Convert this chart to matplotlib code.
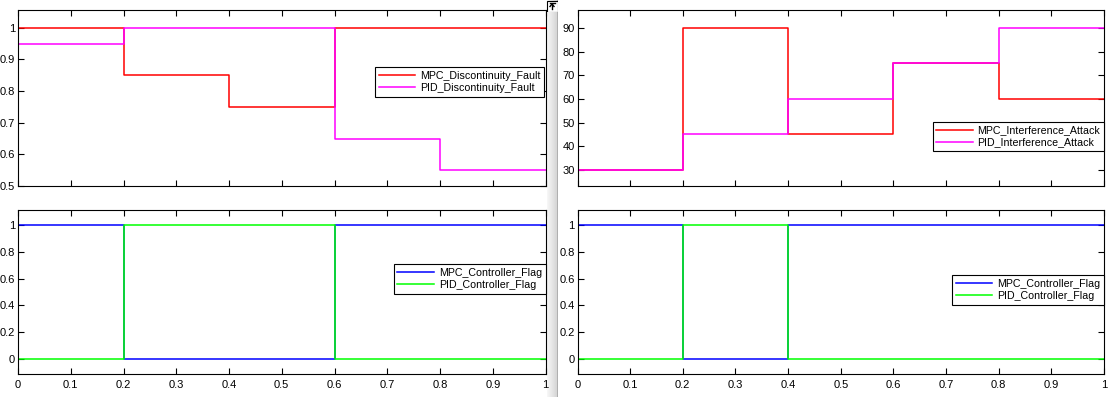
import numpy as np
import matplotlib
matplotlib.use("Agg")
import matplotlib.pyplot as plt
from matplotlib.patches import Rectangle

plt.rcParams['font.family'] = ['Liberation Sans', 'DejaVu Sans']
plt.rcParams['font.size'] = 8

# ---- data ----
t_edges = [0.0, 0.2, 0.4, 0.6, 0.8, 1.0]
mpc_fault = [1.0, 0.85, 0.75, 1.0, 1.0]
pid_fault = [0.95, 1.0, 1.0, 0.65, 0.55]
mpc_flag_left = [1, 0, 0, 1, 1]
pid_flag_left = [0, 1, 1, 0, 0]
mpc_attack = [30, 90, 45, 75, 60]
pid_attack = [30, 45, 60, 75, 90]
mpc_flag_right = [1, 0, 1, 1, 1]
pid_flag_right = [0, 1, 0, 0, 0]

x_ticks = [0, 0.1, 0.2, 0.3, 0.4, 0.5, 0.6, 0.7, 0.8, 0.9, 1]
x_ticklabels = ['0', '0.1', '0.2', '0.3', '0.4', '0.5', '0.6', '0.7', '0.8', '0.9', '1']
fault_ticks = [0.5, 0.6, 0.7, 0.8, 0.9, 1]
fault_ticklabels = ['0.5', '0.6', '0.7', '0.8', '0.9', '1']
flag_ticks = [0, 0.2, 0.4, 0.6, 0.8, 1]
flag_ticklabels = ['0', '0.2', '0.4', '0.6', '0.8', '1']
attack_ticks = [30, 40, 50, 60, 70, 80, 90]
attack_ticklabels = ['30', '40', '50', '60', '70', '80', '90']

W, H = 1119, 397
fig = plt.figure(figsize=(W / 100, H / 100), dpi=100)


def px_axes(x0, y0, x1, y1, **kw):
    return fig.add_axes([x0 / W, (H - y1) / H, (x1 - x0) / W, (y1 - y0) / H], **kw)


# separator bar with gradient (drawn first so tick labels stay on top)
sep = px_axes(547, 0, 558, H, zorder=0)
grad = np.linspace(0.97, 0.82, 50).reshape(1, -1)
sep.imshow(grad, aspect='auto', cmap='gray', vmin=0, vmax=1,
           extent=(0, 1, 0, 1))
sep.axvline(1, color='#a8a8a8', lw=1.2)
sep.set_xlim(0, 1)
sep.set_ylim(0, 1)
sep.axis('off')


def stairs(ax, vals, color, label):
    y = list(vals) + [vals[-1]]
    ax.step(t_edges, y, where='post', color=color, lw=1.1, label=label)


def style(ax, show_x):
    ax.set_xlim(0, 1)
    ax.set_xticks(x_ticks)
    if show_x:
        ax.set_xticklabels(x_ticklabels)
    else:
        ax.set_xticklabels([])
    ax.tick_params(direction='in', top=True, right=True, length=4, width=0.8,
                   labelsize=8, colors='black')
    ax.tick_params(axis='y', pad=2)
    ax.tick_params(axis='x', pad=4)
    for s in ax.spines.values():
        s.set_linewidth(0.8)
    ax.patch.set_alpha(1)


def legend(ax, x_right_px, y_top_px):
    leg = ax.legend(loc='upper right',
                    bbox_to_anchor=(x_right_px / W, 1 - y_top_px / H),
                    bbox_transform=fig.transFigure,
                    fancybox=False, framealpha=1, edgecolor='black',
                    fontsize=7.7, handlelength=3.4, handletextpad=0.45,
                    borderpad=0.35, labelspacing=0.22, borderaxespad=0)
    leg.get_frame().set_linewidth(0.8)


# left top
ax1 = px_axes(18, 10, 545.5, 186, zorder=1)
stairs(ax1, mpc_fault, '#ff0000', 'MPC_Discontinuity_Fault')
stairs(ax1, pid_fault, '#ff00ff', 'PID_Discontinuity_Fault')
ax1.set_ylim(0.5, 1.056)
ax1.set_yticks(fault_ticks)
ax1.set_yticklabels(fault_ticklabels)
style(ax1, False)
legend(ax1, 544, 67)

# left bottom
ax2 = px_axes(18, 210, 545.5, 374, zorder=1)
stairs(ax2, mpc_flag_left, '#0000ff', 'MPC_Controller_Flag')
stairs(ax2, pid_flag_left, '#00ff00', 'PID_Controller_Flag')
ax2.set_ylim(-0.11, 1.11)
ax2.set_yticks(flag_ticks)
ax2.set_yticklabels(flag_ticklabels)
style(ax2, True)
legend(ax2, 545.5, 264)

# right top
ax3 = px_axes(577.5, 10, 1104, 186, zorder=1)
stairs(ax3, mpc_attack, '#ff0000', 'MPC_Interference_Attack')
stairs(ax3, pid_attack, '#ff00ff', 'PID_Interference_Attack')
ax3.set_ylim(23.2, 97.6)
ax3.set_yticks(attack_ticks)
ax3.set_yticklabels(attack_ticklabels)
style(ax3, False)
legend(ax3, 1104, 121.5)

# right bottom
ax4 = px_axes(577.5, 210, 1104, 374, zorder=1)
stairs(ax4, mpc_flag_right, '#0000ff', 'MPC_Controller_Flag')
stairs(ax4, pid_flag_right, '#00ff00', 'PID_Controller_Flag')
ax4.set_ylim(-0.11, 1.11)
ax4.set_yticks(flag_ticks)
ax4.set_yticklabels(flag_ticklabels)
style(ax4, True)
legend(ax4, 1104, 275)

# small button icon at top of separator
btn = px_axes(546, 0, 558, 12, zorder=3)
btn.set_xlim(0, 12)
btn.set_ylim(12, 0)
btn.add_patch(Rectangle((0.5, 0.5), 11, 11, facecolor='white',
                        edgecolor='black', lw=0.8))
btn.plot([3.5, 8.5], [3, 3], color='black', lw=1)
btn.plot([6, 6], [3.5, 9], color='black', lw=1)
btn.plot([4, 6, 8], [6.5, 4, 6.5], color='black', lw=1)
btn.axis('off')

fig.savefig('out.png', dpi=100)
